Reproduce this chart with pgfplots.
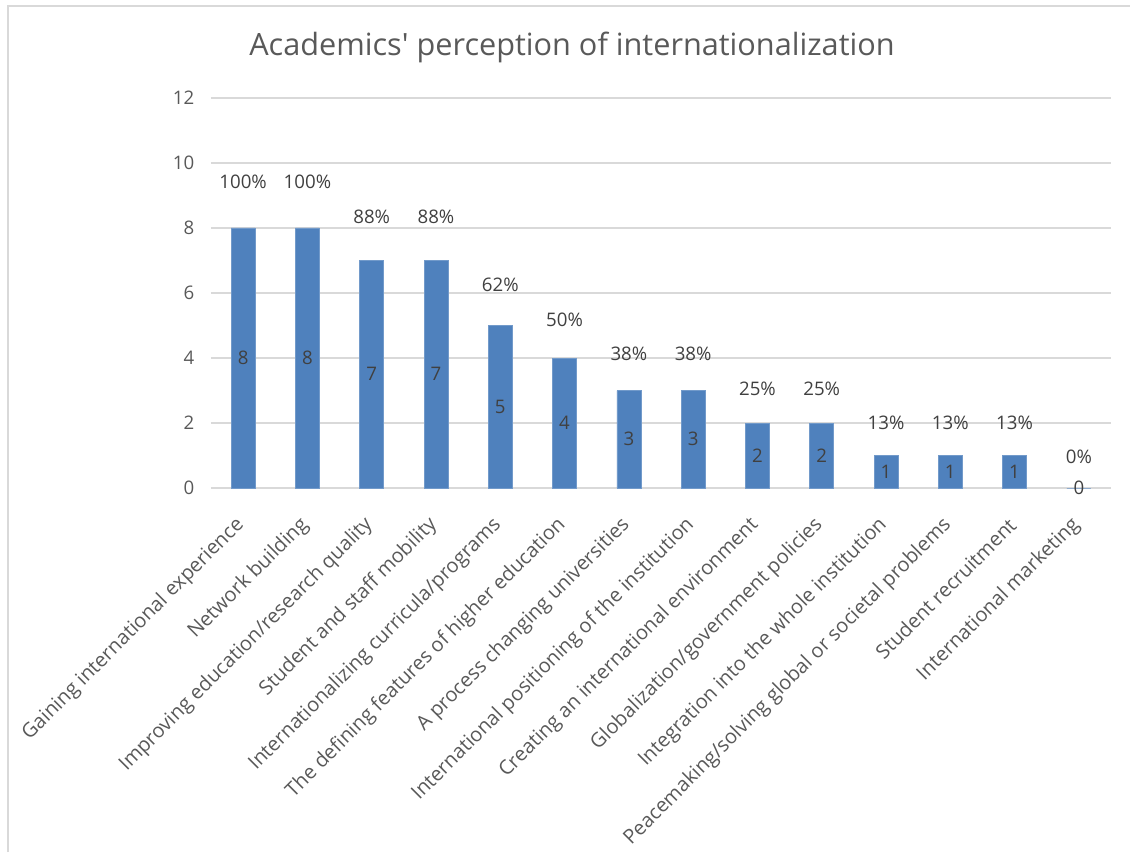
\documentclass[border=0pt]{standalone}
\usepackage{pgfplots}
\pgfplotsset{compat=1.18}
\usepackage{fontspec}
\setmainfont{Open Sans}
\definecolor{barblue}{RGB}{79,129,189}
\definecolor{txt}{RGB}{89,89,89}
\definecolor{lbl}{RGB}{64,64,64}
\definecolor{gridc}{RGB}{217,217,217}

\pgfplotstableread{
x n lab
0 8 4
1 8 4
2 7 3.5
3 7 3.5
4 5 2.5
5 4 2
6 3 1.5
7 3 1.5
8 2 1
9 2 1
10 1 0.5
11 1 0.5
12 1 0.5
13 0 0
}\counts

\pgfplotstableread{
x y pct
0 9.42 100\%
1 9.42 100\%
2 8.35 88\%
3 8.35 88\%
4 6.25 62\%
5 5.19 50\%
6 4.12 38\%
7 4.12 38\%
8 3.04 25\%
9 3.04 25\%
10 2.01 13\%
11 2.01 13\%
12 2.01 13\%
13 0.96 0\%
}\pcts

\newcommand\lblfont{\fontsize{14}{17}\selectfont}

\begin{document}
\begin{tikzpicture}
\begin{axis}[
  scale only axis,
  width=675pt, height=292.5pt,
  at={(0,0)}, anchor=south west,
  xmin=-0.5, xmax=13.5,
  ymin=0, ymax=12,
  ytick={0,2,...,12},
  xtick={0,...,13},
  xticklabels={Gaining international experience, Network building,
    Improving education/research quality, Student and staff mobility,
    Internationalizing curricula/programs, The defining features of higher education,
    A process changing universities, International positioning of the institution,
    Creating an international environment, Globalization/government policies,
    Integration into the whole institution, Peacemaking/solving global or societal problems,
    Student recruitment, International marketing},
  axis line style={draw=none},
  ymajorgrids, xmajorgrids=false,
  grid style={draw=gridc, line width=1.1pt},
  major tick length=0pt,
  tick label style={font=\lblfont, text=txt},
  yticklabel style={xshift=-9pt},
  xticklabel style={font=\fontsize{15}{18}\selectfont, xshift=0.75pt, yshift=-23pt,
    rotate=45, anchor=east},
  /pgf/number format/assume math mode=true,
  clip=false,
]
  \draw[draw=gridc, line width=1.1pt] (axis cs:-0.5,0) -- (axis cs:13.5,0);
  \addplot[ybar, bar width=18pt, fill=barblue, draw=barblue!80!white]
    table[x=x, y=n] {\counts};
  \addplot[only marks, mark=none, nodes near coords, point meta=explicit symbolic,
    every node near coord/.style={anchor=center, font=\lblfont, text=lbl}]
    table[x=x, y=lab, meta=n] {\counts};
  \addplot[only marks, mark=none, nodes near coords, point meta=explicit symbolic,
    every node near coord/.style={anchor=center, font=\lblfont, text=lbl}]
    table[x=x, y=y, meta=pct] {\pcts};
\end{axis}
\node[text=txt, font=\fontsize{23}{28}\selectfont] at (270.75pt,330.75pt)
  {Academics\textquotesingle{} perception of internationalization};
\draw[draw=gridc, line width=1.2pt] (-152.25pt,-273pt) -- (-152.25pt,361.5pt) -- (689.25pt,361.5pt);
\pgfresetboundingbox
\path[use as bounding box] (-158.25pt,-273pt) rectangle (689.25pt,366pt);
\end{tikzpicture}
\end{document}
